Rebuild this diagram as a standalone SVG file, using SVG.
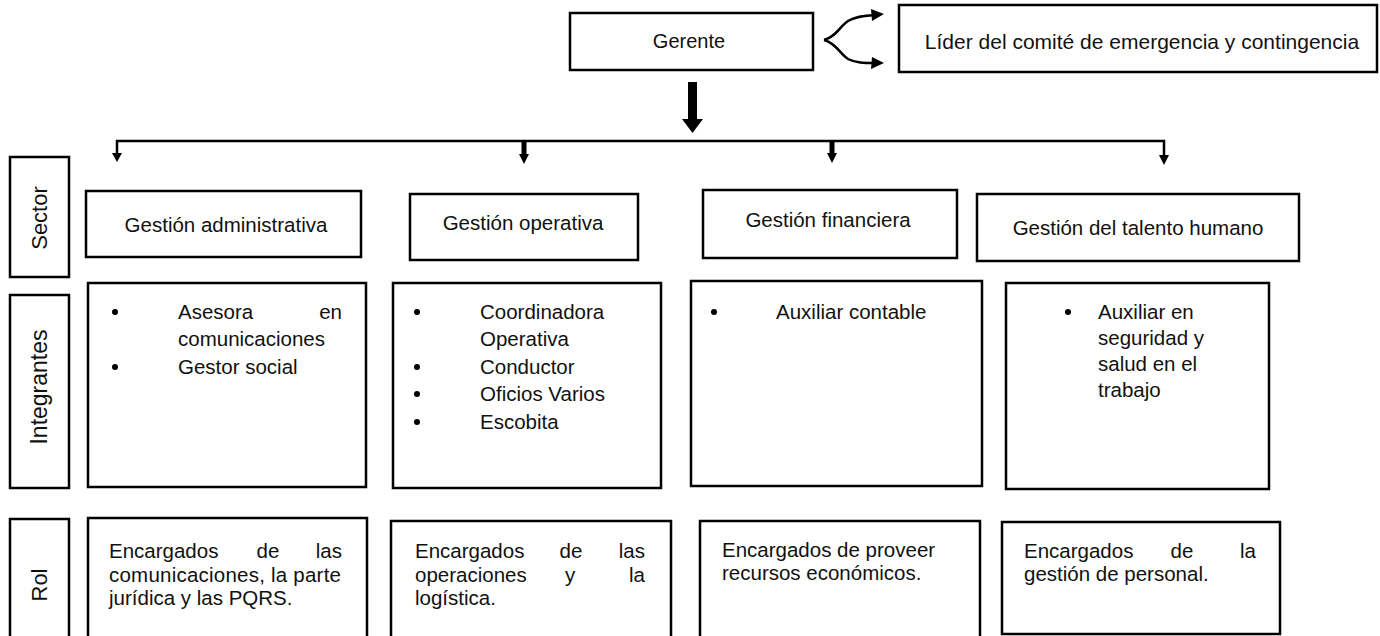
<svg xmlns="http://www.w3.org/2000/svg" width="1380" height="636" viewBox="0 0 1380 636">
<style>
.box{fill:#fff;stroke:#000;stroke-width:2.5}
.t{font-family:"Liberation Sans",Arial,sans-serif;font-size:20.5px;fill:#111}
.c{text-anchor:middle}
.e{text-anchor:end}
.lbl{font-family:"Liberation Sans",Arial,sans-serif;font-size:22px;fill:#111;text-anchor:middle}
.ln{fill:none;stroke:#000;stroke-width:2.5}
.b{fill:#000}
</style>
<rect width="1380" height="636" fill="#fff"/>

<g id="connectors">
<path class="ln" d="M824,40 C836,37 840,26 848,21 C856,16 864,16 874,15"/>
<path d="M871,9 L884,14 L872,21 z" class="b"/>
<path class="ln" d="M824,40 C836,43 840,54 848,59 C856,63 864,63 874,63"/>
<path d="M872,57 L884,63 L871,69 z" class="b"/>
<rect x="688" y="82" width="9" height="38" class="b"/>
<path d="M682,119 L703,119 L692.5,133 z" class="b"/>
<path class="ln" d="M117,156 L117,141 L1164,141 L1164,156"/>
<path d="M112,153 L122,153 L117,162 z" class="b"/>
<path d="M1159,155 L1169,155 L1164,165 z" class="b"/>
<rect x="521.5" y="141" width="5" height="15" class="b"/>
<path d="M519,154 L529,154 L524,164 z" class="b"/>
<rect x="829.5" y="141" width="5" height="14" class="b"/>
<path d="M827,153 L837,153 L832,163 z" class="b"/>
</g>

<g id="gerente">
<rect class="box" x="570" y="13" width="243" height="57"/>
<text class="t c" x="689" y="48" style="font-size:20px">Gerente</text>
</g>
<g id="lider">
<rect class="box" x="899" y="5" width="478" height="67"/>
<text class="t c" x="1142" y="49" style="font-size:21px">Líder del comité de emergencia y contingencia</text>
</g>

<g id="label-sector">
<rect class="box" x="10" y="157" width="59" height="120"/>
<text class="lbl" transform="translate(47,218) rotate(-90)">Sector</text>
</g>
<g id="label-integrantes">
<rect class="box" x="10" y="295" width="59" height="193"/>
<text class="lbl" transform="translate(47,387) rotate(-90)" style="font-size:23px">Integrantes</text>
</g>
<g id="label-rol">
<rect class="box" x="10" y="519" width="59" height="125"/>
<text class="lbl" transform="translate(47,585) rotate(-90)">Rol</text>
</g>

<g id="sector-admin">
<rect class="box" x="86" y="191" width="275" height="66"/>
<text class="t c" x="226" y="232">Gestión administrativa</text>
</g>
<g id="sector-operativa">
<rect class="box" x="410" y="194" width="228" height="66"/>
<text class="t c" x="523" y="230">Gestión operativa</text>
</g>
<g id="sector-financiera">
<rect class="box" x="703" y="190" width="254" height="68"/>
<text class="t c" x="828" y="227">Gestión financiera</text>
</g>
<g id="sector-talento">
<rect class="box" x="977" y="194" width="322" height="67"/>
<text class="t c" x="1138" y="235">Gestión del talento humano</text>
</g>

<g id="int-admin">
<rect class="box" x="88" y="283" width="278" height="204"/>
<circle class="b" cx="115" cy="312" r="3"/>
<text class="t" x="178" y="319">Asesora</text>
<text class="t e" x="342" y="319">en</text>
<text class="t" x="178" y="346">comunicaciones</text>
<circle class="b" cx="115" cy="367" r="3"/>
<text class="t" x="178" y="374">Gestor social</text>
</g>
<g id="int-operativa">
<rect class="box" x="393" y="283" width="268" height="205"/>
<circle class="b" cx="417" cy="312" r="3"/>
<text class="t" x="480" y="319">Coordinadora</text>
<text class="t" x="480" y="346">Operativa</text>
<circle class="b" cx="417" cy="367" r="3"/>
<text class="t" x="480" y="374">Conductor</text>
<circle class="b" cx="417" cy="394" r="3"/>
<text class="t" x="480" y="401">Oficios Varios</text>
<circle class="b" cx="417" cy="422" r="3"/>
<text class="t" x="480" y="429">Escobita</text>
</g>
<g id="int-financiera">
<rect class="box" x="691" y="281" width="291" height="205"/>
<circle class="b" cx="714" cy="312" r="3"/>
<text class="t" x="776" y="319">Auxiliar contable</text>
</g>
<g id="int-talento">
<rect class="box" x="1006" y="283" width="263" height="206"/>
<circle class="b" cx="1068" cy="312" r="3"/>
<text class="t" x="1098" y="319">Auxiliar en</text>
<text class="t" x="1098" y="345">seguridad y</text>
<text class="t" x="1098" y="371">salud en el</text>
<text class="t" x="1098" y="397">trabajo</text>
</g>

<g id="rol-admin">
<rect class="box" x="88" y="518" width="279" height="125"/>
<text class="t" x="109" y="558">Encargados</text>
<text class="t c" x="268" y="558">de</text>
<text class="t e" x="342" y="558">las</text>
<text class="t" x="109" y="581.5" textLength="232" lengthAdjust="spacing">comunicaciones, la parte</text>
<text class="t" x="109" y="605">jurídica y las PQRS.</text>
</g>
<g id="rol-operativa">
<rect class="box" x="391" y="521" width="280" height="122"/>
<text class="t" x="415" y="558">Encargados</text>
<text class="t c" x="571" y="558">de</text>
<text class="t e" x="645" y="558">las</text>
<text class="t" x="415" y="581.5">operaciones</text>
<text class="t c" x="570" y="581.5">y</text>
<text class="t e" x="645" y="581.5">la</text>
<text class="t" x="415" y="605">logística.</text>
</g>
<g id="rol-financiera">
<rect class="box" x="700" y="521" width="280" height="122"/>
<text class="t" x="722" y="557">Encargados de proveer</text>
<text class="t" x="722" y="580">recursos económicos.</text>
</g>
<g id="rol-talento">
<rect class="box" x="1002" y="522" width="278" height="112"/>
<text class="t" x="1024" y="558">Encargados</text>
<text class="t c" x="1182" y="558">de</text>
<text class="t e" x="1256" y="558">la</text>
<text class="t" x="1024" y="581">gestión de personal.</text>
</g>
</svg>
